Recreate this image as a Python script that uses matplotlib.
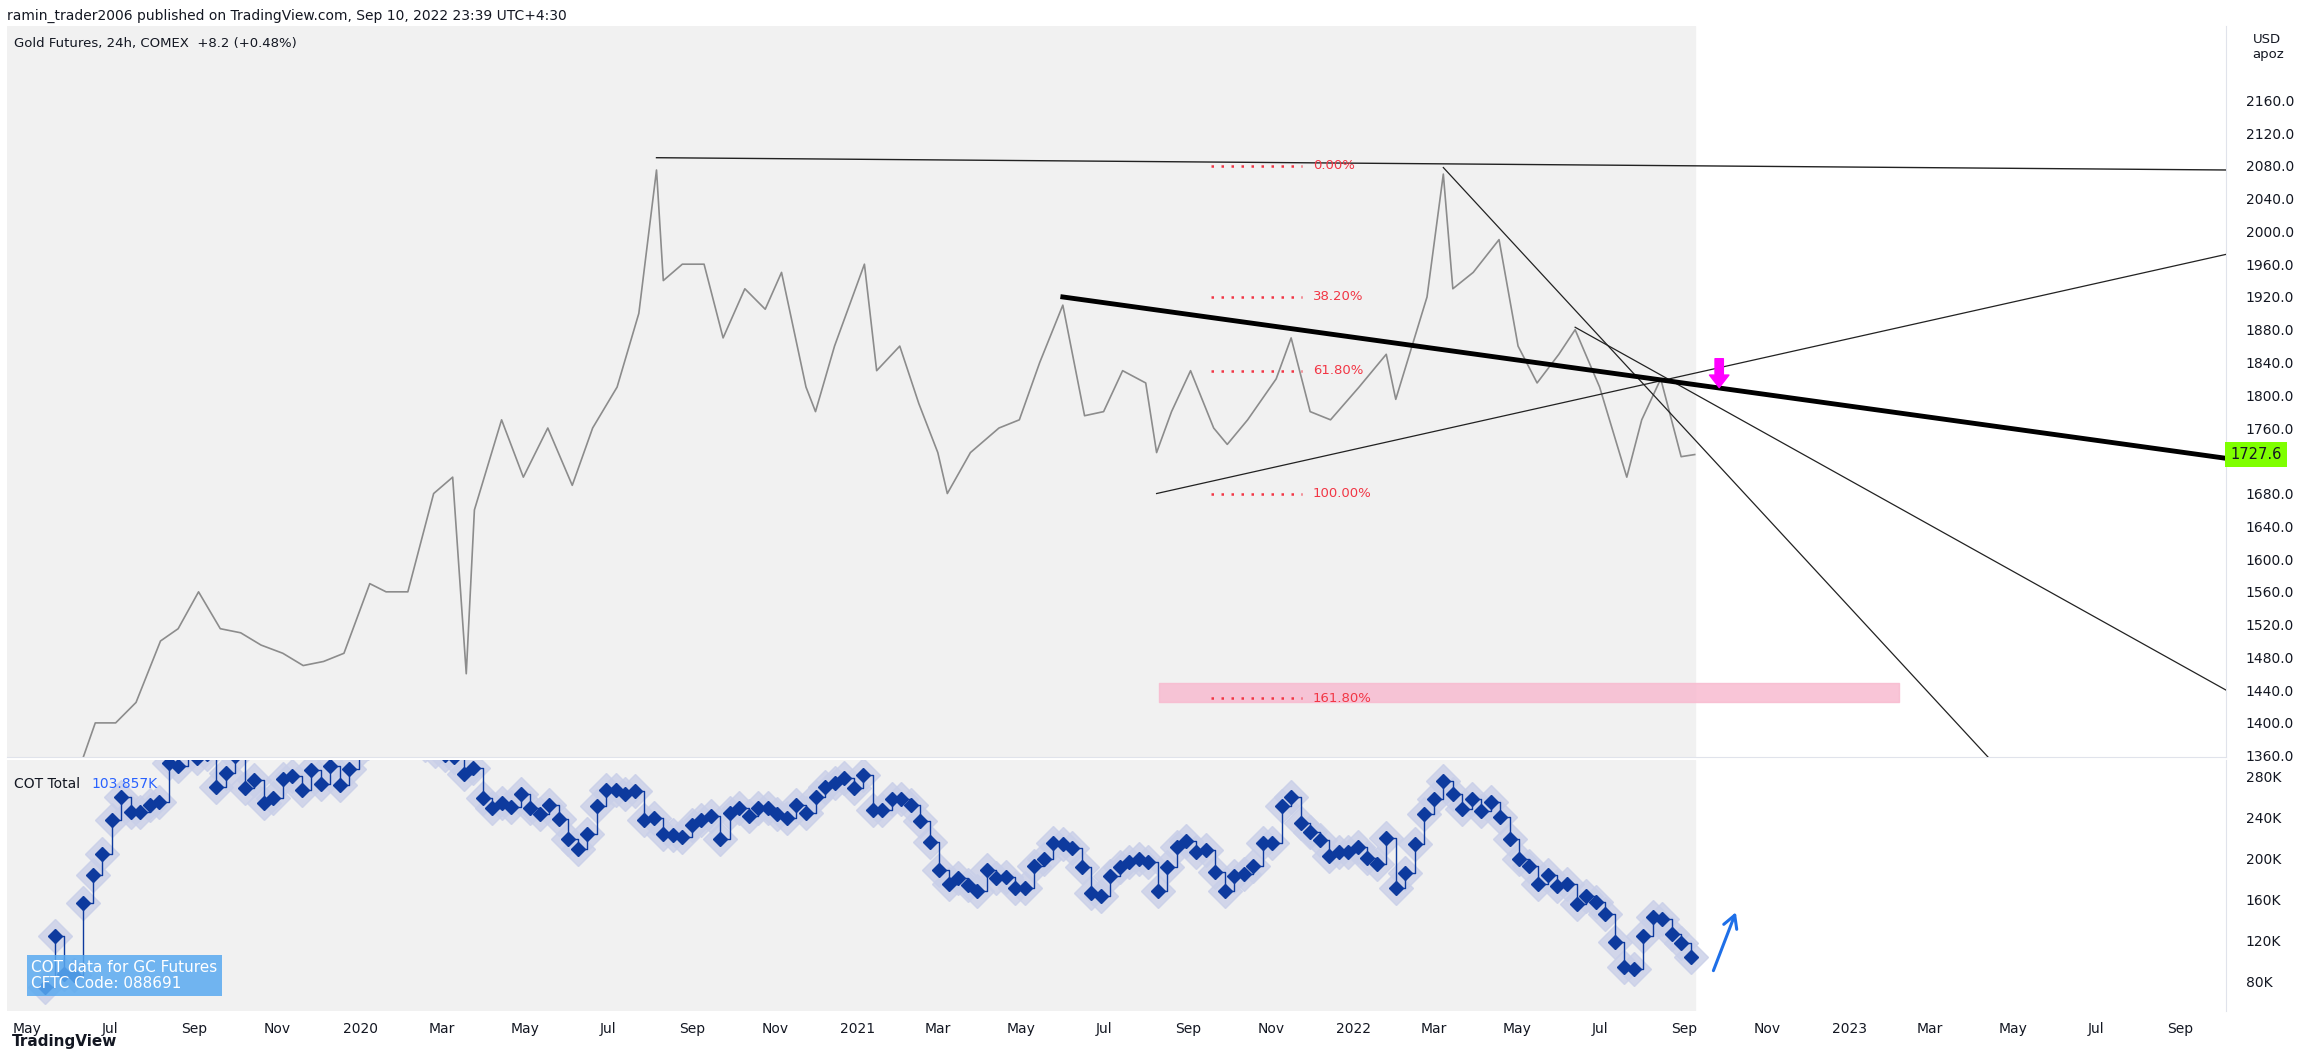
import pandas as pd
import matplotlib
matplotlib.use("Agg")
import matplotlib.pyplot as plt
import matplotlib.dates as mdates
from matplotlib.ticker import FuncFormatter, MultipleLocator, FixedLocator

# --- price (approximate closes) ---
price_dates = ["2019-05-15", "2019-06-01", "2019-06-20", "2019-07-05", "2019-07-20", "2019-08-07", "2019-08-20",
               "2019-09-04", "2019-09-20", "2019-10-05", "2019-10-20", "2019-11-05", "2019-11-20", "2019-12-05",
               "2019-12-20", "2020-01-08", "2020-01-20", "2020-02-05", "2020-02-24", "2020-03-09", "2020-03-19",
               "2020-03-25", "2020-04-14", "2020-04-30", "2020-05-18", "2020-06-05", "2020-06-20", "2020-07-08",
               "2020-07-24", "2020-08-06", "2020-08-11", "2020-08-25", "2020-09-10", "2020-09-24", "2020-10-10",
               "2020-10-25", "2020-11-06", "2020-11-24", "2020-12-01", "2020-12-15", "2021-01-06", "2021-01-15",
               "2021-02-01", "2021-02-15", "2021-03-01", "2021-03-08", "2021-03-25", "2021-04-15", "2021-04-30",
               "2021-05-15", "2021-06-01", "2021-06-17", "2021-07-01", "2021-07-15", "2021-08-01", "2021-08-09",
               "2021-08-20", "2021-09-03", "2021-09-20", "2021-09-30", "2021-10-15", "2021-11-05", "2021-11-16",
               "2021-11-30", "2021-12-15", "2022-01-05", "2022-01-25", "2022-02-01", "2022-02-24", "2022-03-08",
               "2022-03-15", "2022-03-30", "2022-04-18", "2022-05-02", "2022-05-16", "2022-06-01", "2022-06-13",
               "2022-07-01", "2022-07-21", "2022-08-01", "2022-08-15", "2022-08-30", "2022-09-09"]
price_vals = [1290, 1310, 1400, 1400, 1425, 1500, 1515, 1560, 1515, 1510, 1495, 1485, 1470, 1475, 1485, 1570,
              1560, 1560, 1680, 1700, 1460, 1660, 1770, 1700, 1760, 1690, 1760, 1810, 1900, 2075, 1940, 1960,
              1960, 1870, 1930, 1905, 1950, 1810, 1780, 1860, 1960, 1830, 1860, 1790, 1730, 1680, 1730, 1760,
              1770, 1840, 1910, 1775, 1780, 1830, 1815, 1730, 1780, 1830, 1760, 1740, 1770, 1820, 1870, 1780,
              1770, 1810, 1850, 1795, 1920, 2070, 1930, 1950, 1990, 1860, 1815, 1850, 1880, 1810, 1700, 1770,
              1820, 1725, 1727.6]

# --- COT total, weekly (K), ending 2022-09-06 ---
cot_vals = [75, 124, 87, 86, 156, 184, 204, 237, 260, 245, 245, 252, 255, 293, 290, 305, 298, 302, 270, 283,
            300, 269, 276, 254, 259, 277, 280, 267, 286, 272, 290, 271, 287,
            305, 312, 318, 325, 330, 322, 315, 310, 305, 301,
            299, 282, 288, 259, 249, 254, 250, 263, 249, 243, 252, 238, 219, 209, 224, 251, 267, 267, 263, 266,
            237, 239, 224, 223, 221, 232, 237, 241, 219, 244, 249, 241, 249, 249, 243, 239, 252, 244, 260, 270,
            273, 278, 269, 281,
            247, 247, 258, 258, 252, 236, 216, 189, 175, 181, 174, 168, 189, 181, 182, 171, 171, 193, 199, 215,
            214, 210, 192, 166, 163, 183, 192, 196, 199, 196, 168, 192, 211, 217, 206, 208, 187, 168, 183, 185,
            193, 215, 215, 251, 260, 234, 226, 218, 202, 206, 206, 211, 200, 194, 220, 171, 186, 214, 243, 258,
            275, 263, 248, 258, 246, 255, 240, 219, 199, 193, 175, 184, 173, 175, 155, 163, 157, 146, 118, 94,
            92, 124, 143, 141, 126, 117, 104]

# --- drawings (date, price) ---
top_line = (["2020-08-06", "2023-10-05"], [2090, 2075])
thick_line = (["2021-06-01", "2023-10-05"], [1920, 1723])
rising_line = (["2021-08-09", "2023-10-05"], [1680, 1972])
fall_line_1 = (["2022-03-08", "2023-04-13"], [2078, 1358])
fall_line_2 = (["2022-06-13", "2023-10-05"], [1883, 1440])
fib_levels = [2080, 1920, 1830, 1680, 1430]
fib_labels = ["0.00%", "38.20%", "61.80%", "100.00%", "161.80%"]
price_ticks = list(range(1360, 2161, 40))

pd_price = pd.to_datetime(price_dates)
cot_dates = pd.date_range(end="2022-09-06", periods=len(cot_vals), freq="7D")
D = lambda s: pd.to_datetime(s)

fig = plt.figure(figsize=(23.14, 10.54), dpi=100)
ax = fig.add_axes([0.003, 0.2815, 0.959, 0.694])
ax2 = fig.add_axes([0.003, 0.0406, 0.959, 0.2385], sharex=ax)

x0, x1 = D("2019-04-16"), D("2023-10-05")
for a in (ax, ax2):
    a.axvspan(x0, pd_price[-1], color="#f1f1f1", zorder=0)
    a.set_xlim(x0, x1)
    a.yaxis.tick_right()
    a.tick_params(axis="y", length=0, labelsize=10, colors="#131722", pad=14)
    for s in ("top", "left", "bottom"):
        a.spines[s].set_visible(False)
    a.spines["right"].set_color("#e0e3eb")

ax.set_ylim(1358, 2251)
ax.yaxis.set_major_locator(FixedLocator(price_ticks))
ax.yaxis.set_major_formatter(FuncFormatter(lambda v, p: "" if v == 1720 else f"{v:.1f}"))
ax.tick_params(axis="x", which="both", length=0, labelbottom=False)
ax.spines["bottom"].set_visible(True)
ax.spines["bottom"].set_color("#e0e3eb")

ax.plot(pd_price, price_vals, color="#8c8c8c", lw=1.2, zorder=2)

ax.plot(D(top_line[0]), top_line[1], color="#222", lw=1.0, zorder=3)
ax.plot(D(thick_line[0]), thick_line[1], color="black", lw=3.5, zorder=4)
ax.plot(D(rising_line[0]), rising_line[1], color="#222", lw=0.9, zorder=3)
ax.plot(D(fall_line_1[0]), fall_line_1[1], color="#222", lw=0.9, zorder=3)
ax.plot(D(fall_line_2[0]), fall_line_2[1], color="#222", lw=0.9, zorder=3)

for lvl, lab in zip(fib_levels, fib_labels):
    ax.plot([D("2021-09-18"), D("2021-11-24")], [lvl, lvl], color="#f23645", lw=1.8, ls=(0, (1, 3)), zorder=3)
    ax.text(D("2021-12-02"), lvl, lab, color="#f23645", fontsize=9.5, va="center", zorder=3)
ax.fill_between([D("2021-08-11"), D("2023-02-06")], 1426, 1449, color="#f8bbd0", alpha=0.85, zorder=1)

ax.annotate("", xy=(D("2022-09-27"), 1806), xytext=(D("2022-09-27"), 1848),
            arrowprops=dict(arrowstyle="simple,head_width=1.4,head_length=0.9,tail_width=0.6",
                            color="#ff00ff"), zorder=5)

ax.text(1.002, (1727.6 - 1358) / (2251 - 1358), "1727.6", transform=ax.transAxes, fontsize=10.5,
        va="center", ha="left", color="#131722",
        bbox=dict(boxstyle="square,pad=0.35", fc="#7fff00", ec="none"), zorder=6)
ax.text(1.012, 0.99, "USD\napoz", transform=ax.transAxes, fontsize=9.5, va="top", color="#131722")
ax.text(0.003, 0.985, "Gold Futures, 24h, COMEX  +8.2 (+0.48%)", transform=ax.transAxes,
        fontsize=9.5, va="top", color="#131722")

# COT pane
ax2.set_ylim(51, 296)
ax2.yaxis.set_major_locator(MultipleLocator(40))
ax2.yaxis.set_major_formatter(FuncFormatter(lambda v, p: f"{int(v)}K"))
ax2.step(cot_dates, cot_vals, where="post", color="#0d3a9e", lw=1.0, zorder=3)
ax2.plot(cot_dates, cot_vals, ls="none", marker="D", ms=17, color="#c9cfe8", alpha=0.8, zorder=2)
ax2.plot(cot_dates, cot_vals, ls="none", marker="D", ms=7, color="#0d3a9e", zorder=4)
ax2.text(0.003, 0.93, "COT Total", transform=ax2.transAxes, fontsize=10, color="#131722", va="top")
ax2.text(0.038, 0.93, "103.857K", transform=ax2.transAxes, fontsize=10, color="#2962ff", va="top")
ax2.text(0.011, 0.08, "COT data for GC Futures\nCFTC Code: 088691", transform=ax2.transAxes, fontsize=11,
         color="white", va="bottom", linespacing=1.1,
         bbox=dict(boxstyle="square,pad=0.3", fc="#5aaaf0", ec="none", alpha=0.85), zorder=6)
ax2.annotate("", xy=(D("2022-10-10"), 150), xytext=(D("2022-09-22"), 88),
             arrowprops=dict(arrowstyle="->,head_width=0.5,head_length=0.9", color="#1e6fe8", lw=2.2))

ax2.xaxis.set_major_locator(mdates.MonthLocator(bymonth=[1, 3, 5, 7, 9, 11]))
ax2.xaxis.set_major_formatter(FuncFormatter(
    lambda v, p: mdates.num2date(v).strftime("%Y") if mdates.num2date(v).month == 1 else mdates.num2date(v).strftime("%b")))
ax2.tick_params(axis="x", length=0, labelsize=10, colors="#131722", pad=8)

fig.text(0.003, 0.992, "ramin_trader2006 published on TradingView.com, Sep 10, 2022 23:39 UTC+4:30",
         fontsize=10, va="top", color="#131722")
fig.text(0.005, 0.008, "TradingView", fontsize=11, color="#131722", weight="bold")

fig.savefig("out.png", dpi=100, facecolor="white")
